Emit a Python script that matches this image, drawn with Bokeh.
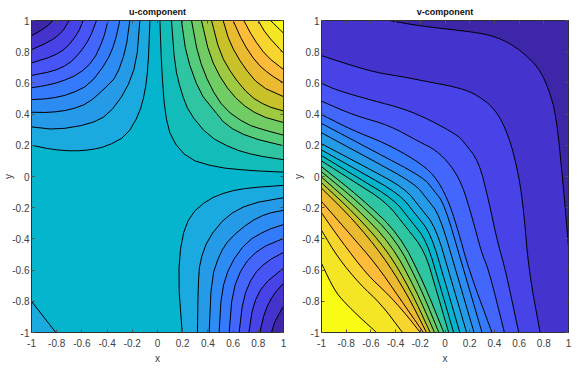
from bokeh.plotting import figure
from bokeh.layouts import row
from bokeh.models import Range1d, FixedTicker, LinearAxis
from bokeh.embed import file_html
from bokeh.resources import INLINE

tick_values = [-1, -0.8, -0.6, -0.4, -0.2, 0, 0.2, 0.4, 0.6, 0.8, 1]
tick_labels = ["-1", "-0.8", "-0.6", "-0.4", "-0.2", "0", "0.2", "0.4", "0.6", "0.8", "1"]

# MATLAB parula colours of the 21 filled bands
band_colors = ["#3e26a8", "#4433cc", "#4743e7", "#4755f6", "#4367fd", "#337afd", "#2d8cf3",
               "#259be7", "#1baadf", "#05b5ce", "#12bdb9", "#2fc5a2", "#54cc7c", "#71cc64",
               "#9fc941", "#c8c129", "#eaba30", "#fdbb3a", "#f8d42e", "#f5e625", "#f9fb15"]

# u-component: contour lines, outermost first
u_top_left = [
    [(-.06,1),(-.074,.707),(-.10,.537),(-.146,.40),(-.246,.261),(-.405,.193),(-.537,.17),(-.669,.163),(-.828,.172),(-1,.20)],
    [(-.14,1),(-.167,.728),(-.251,.548),(-.392,.395),(-.542,.335),(-.8,.30),(-1,.318)],
    [(-.22,1),(-.251,.813),(-.325,.643),(-.405,.575),(-.55,.469),(-.696,.427),(-.854,.41),(-1,.412)],
    [(-.299,1),(-.339,.856),(-.40,.739),(-.537,.59),(-.696,.527),(-.854,.499),(-1,.493)],
    [(-.392,1),(-.431,.877),(-.511,.739),(-.63,.654),(-.775,.605),(-.907,.58),(-1,.569)],
    [(-.484,1),(-.537,.887),(-.616,.792),(-.709,.718),(-.828,.675),(-1,.648)],
    [(-.59,1),(-.63,.92),(-.722,.824),(-.828,.771),(-1,.728)],
    [(-.70,1),(-.762,.92),(-.854,.866),(-1,.813)],
    [(-.828,1),(-.894,.951),(-1,.902)],
]
u_top_right = [
    [(.019,1),(.032,.707),(.058,.41),(.11,.24),(.243,.113),(.468,.059),(.733,.038),(1,.028)],
    [(.111,1),(.138,.707),(.19,.537),(.251,.41),(.402,.261),(.60,.176),(.786,.134),(1,.108)],
    [(.19,1),(.23,.771),(.336,.537),(.442,.431),(.548,.325),(.733,.25),(1,.197)],
    [(.27,1),(.323,.771),(.415,.58),(.534,.431),(.706,.335),(.839,.30),(1,.265)],
    [(.349,1),(.415,.771),(.521,.601),(.653,.473),(.812,.389),(1,.346)],
    [(.429,1),(.495,.792),(.60,.643),(.733,.516),(.865,.452),(1,.42)],
    [(.521,1),(.574,.856),(.68,.707),(.812,.58),(1,.512)],
    [(.60,1),(.68,.856),(.786,.728),(.892,.654),(1,.60)],
    [(.685,1),(.759,.888),(.865,.771),(1,.686)],
    [(.799,1),(.865,.909),(1,.792)],
    [(.897,1),(1,.919)],
]
u_bottom_right = [
    [(.196,-1),(.164,-.652),(.19,-.397),(.262,-.244),(.402,-.147),(.56,-.096),(.733,-.072),(1,-.057)],
    [(.317,-1),(.323,-.694),(.336,-.546),(.402,-.397),(.548,-.253),(.733,-.174),(1,-.136)],
    [(.41,-1),(.429,-.652),(.495,-.493),(.574,-.397),(.733,-.291),(.865,-.238),(1,-.217)],
    [(.489,-1),(.508,-.737),(.574,-.567),(.706,-.418),(.865,-.344),(1,-.308)],
    [(.569,-1),(.595,-.737),(.68,-.567),(.812,-.461),(1,-.397)],
    [(.648,-1),(.68,-.779),(.759,-.631),(.865,-.546),(1,-.486)],
    [(.725,-1),(.759,-.822),(.838,-.694),(1,-.588)],
    [(.812,-1),(.852,-.864),(.918,-.758),(1,-.684)],
    [(.905,-1),(.931,-.928),(1,-.832)],
]
u_bottom_left = [[(-1,-.8),(-.807,-1)]]

# v-component: contour lines from the dark corner to the yellow corner
v_lines = [
    [(-.45,1),(-.196,.964),(.234,.926),(.395,.90),(.543,.847),(.677,.763),(.772,.678),(.839,.561),(.901,.392),(.96,-.074),(1,-.45)],
    [(-1,.775),(-.79,.72),(-.56,.667),(-.36,.642),(-.116,.604),(.073,.576),(.234,.536),(.409,.434),(.52,.254),(.597,.01),(.638,-.222),(.678,-.6),(.77,-1)],
    [(-1,.597),(-.868,.551),(-.586,.487),(-.331,.434),(-.116,.36),(.1,.265),(.154,.22),(.275,.095),(.355,-.159),(.423,-.413),(.49,-.6),(.597,-1)],
    [(-1,.483),(-.736,.392),(-.454,.329),(-.209,.2225),(-.075,.17),(.046,.074),(.14,-.053),(.221,-.265),(.30,-.5),(.355,-.6),(.481,-1)],
    [(-1,.397),(-.75,.297),(-.481,.212),(-.239,.106),(-.088,.011),(.019,-.138),(.1,-.328),(.194,-.6),(.38,-1)],
    [(-1,.34),(-.587,.167),(-.174,-.006),(-.09,-.09),(-.006,-.174),(.147,-.587),(.30,-1)],
    [(-1,.28),(-.62,.118),(-.245,-.045),(-.145,-.145),(-.045,-.245),(.095,-.622),(.235,-1)],
    [(-1,.21),(-.66,.068),(-.325,-.075),(-.2,-.2),(-.075,-.325),(.05,-.662),(.175,-1)],
    [(-1,.17),(-.68,.028),(-.365,-.115),(-.24,-.24),(-.115,-.365),(.003,-.682),(.12,-1)],
    [(-1,.134),(-.706,-.007),(-.412,-.148),(-.28,-.28),(-.148,-.412),(-.039,-.706),(.07,-1)],
    [(-1,.10),(-.738,-.032),(-.476,-.164),(-.32,-.32),(-.164,-.476),(-.067,-.738),(.03,-1)],
    [(-1,.063),(-.685,-.135),(-.37,-.37),(-.17,-.685),(-.01,-1)],
    [(-1,.03),(-.70,-.165),(-.40,-.40),(-.205,-.70),(-.05,-1)],
    [(-1,-.004),(-.72,-.20),(-.435,-.435),(-.24,-.72),(-.085,-1)],
    [(-1,-.04),(-.735,-.235),(-.47,-.47),(-.275,-.735),(-.12,-1)],
    [(-1,-.075),(-.75,-.27),(-.505,-.505),(-.31,-.75),(-.15,-1)],
    [(-1,-.16),(-.78,-.36),(-.56,-.56),(-.3675,-.78),(-.175,-1)],
    [(-1,-.233),(-.841,-.413),(-.63,-.63),(-.465,-.752),(-.33,-.87),(-.2,-1)],
    [(-1,-.345),(-.868,-.519),(-.69,-.69),(-.519,-.816),(-.344,-1)],
    [(-1,-.557),(-.895,-.73),(-.81,-.81),(-.68,-.91),(-.554,-1)],
]

FONT = "Liberation Sans"
DARK = "#303030"
TEXT = "#404040"


def smooth(line, rounds):
    """Round a contour's corners; its two ends stay on the frame."""
    pts = list(line)
    for _ in range(rounds):
        new = [pts[0]]
        for a, b in zip(pts[:-1], pts[1:]):
            new.append((0.75 * a[0] + 0.25 * b[0], 0.75 * a[1] + 0.25 * b[1]))
            new.append((0.25 * a[0] + 0.75 * b[0], 0.25 * a[1] + 0.75 * b[1]))
        new.append(pts[-1])
        pts = new
    return pts


def panel(title, width, height, left, right, top, bottom, base):
    p = figure(width=width, height=height, output_backend="svg", toolbar_location=None,
               x_range=Range1d(-1, 1), y_range=Range1d(-1, 1),
               x_axis_label="x", y_axis_label="y",
               min_border_left=left, min_border_right=right, min_border_top=top, min_border_bottom=bottom,
               background_fill_color=base)
    p.grid.visible = False
    p.outline_line_color = DARK
    p.title.text = title
    p.title.align = "center"
    p.title.text_font = FONT
    p.title.text_font_size = "9px"
    p.title.text_font_style = "bold"
    p.title.text_color = "#101010"
    p.title.standoff = 7
    overrides = dict(zip(tick_values, tick_labels))
    blank = {v: "" for v in tick_values}
    for ax in p.xaxis + p.yaxis:
        ax.ticker = FixedTicker(ticks=tick_values)
        ax.major_label_overrides = overrides
    bottom_axes, left_axes = list(p.xaxis), list(p.yaxis)
    for side in ("above", "right"):
        ax = LinearAxis(ticker=FixedTicker(ticks=tick_values), major_label_overrides=blank)
        ax.major_label_standoff = 0
        p.add_layout(ax, side)
    for ax in p.axis:
        ax.major_tick_in = 3
        ax.major_tick_out = 0
        ax.minor_tick_line_color = None
        ax.axis_line_color = DARK
        ax.major_tick_line_color = "#505050"
        ax.major_label_text_font = FONT
        ax.major_label_text_font_size = "10px"
        ax.major_label_text_color = TEXT
        ax.axis_label_text_font = FONT
        ax.axis_label_text_font_size = "10px"
        ax.axis_label_text_font_style = "normal"
        ax.axis_label_text_color = TEXT
    for ax in bottom_axes:
        ax.major_label_standoff = 6
        ax.axis_label_standoff = 3
    for ax in left_axes:
        ax.major_label_standoff = 2
        ax.axis_label_standoff = -5
    return p


def draw(p, polys, lines, colors):
    p.patches(xs=[[q[0] for q in poly] for poly in polys],
              ys=[[q[1] for q in poly] for poly in polys],
              fill_color=colors, line_color=colors, line_width=0.5)
    p.multi_line(xs=[[q[0] for q in ln] for ln in lines],
                 ys=[[q[1] for q in ln] for ln in lines],
                 line_color="#000000", line_width=1)


# u panel: each family is closed through its own corner and painted outermost first
p1 = panel("u-component", 290, 374, 31, 7, 20, 39, band_colors[9])
polys, lines, colors = [], [], []
for family, corner, start, step in ((u_top_left, (-1, 1), 8, -1), (u_bottom_right, (1, -1), 8, -1),
                                    (u_top_right, (1, 1), 10, 1), (u_bottom_left, (-1, -1), 8, -1)):
    for i, ln in enumerate(family):
        ln = smooth(ln, 1)
        polys.append(ln + [corner])
        lines.append(ln)
        colors.append(band_colors[start + step * i])
draw(p1, polys, lines, colors)

# v panel: each region holds everything towards the yellow corner
p2 = panel("v-component", 290, 374, 30, 12, 18, 42, band_colors[0])
polys, lines, colors = [], [], []
for i, raw in enumerate(v_lines):
    ln = smooth(raw, 2)
    pts = list(ln)
    if pts[-1][0] == 1:
        pts.append((1, -1))
    pts.append((-1, -1))
    if pts[0][1] == 1:
        pts.append((-1, 1))
    polys.append(pts)
    lines.append(ln)
    colors.append(band_colors[i + 1])
draw(p2, polys, lines, colors)

open("out.html", "w").write(file_html(row(p1, p2), INLINE))
